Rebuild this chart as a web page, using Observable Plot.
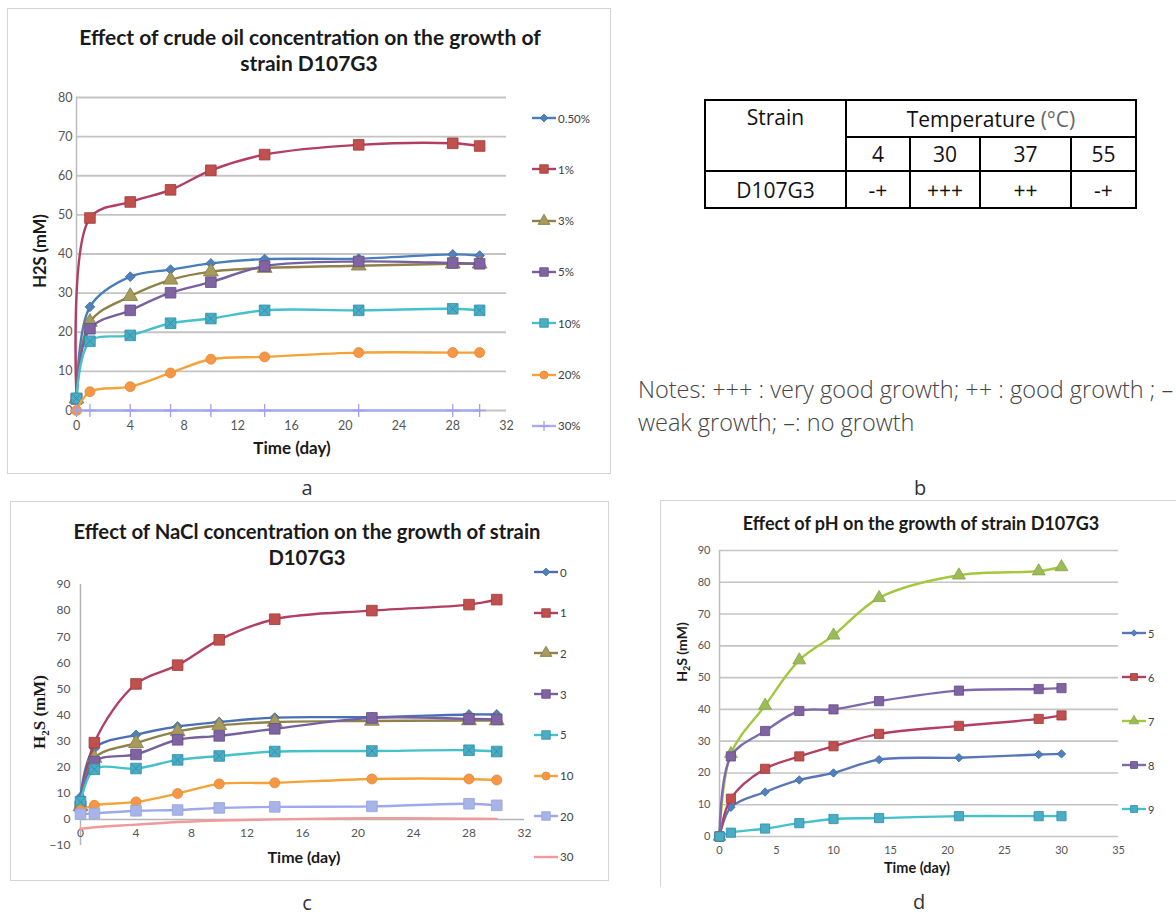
<!DOCTYPE html>
<html>
<head>
<meta charset="utf-8">
<script src="https://cdn.jsdelivr.net/npm/d3@7"></script>
<script src="https://cdn.jsdelivr.net/npm/@observablehq/plot@0.6"></script>
<style>
  body { margin: 0; background: #fff; }
  #page { position: relative; width: 1176px; height: 915px; overflow: hidden; background: #fff; font-family: Lato, "Open Sans", sans-serif; }
  .abs { position: absolute; }
  .frame { position: absolute; box-sizing: border-box; }
  .title { position: absolute; font-family: Lato, sans-serif; font-weight: bold; color: #1a1a1a; text-align: center; white-space: nowrap; transform: translate(-50%, -50%); line-height: 1.1; }
  .lbl { position: absolute; white-space: nowrap; transform: translate(-50%, -50%); line-height: 1.1; }
  .rot { position: absolute; white-space: nowrap; transform: translate(-50%, -50%) rotate(-90deg); line-height: 1.1; }
  .panel { position: absolute; font-family: "Open Sans", sans-serif; font-size: 20px; line-height: 16px; color: #333; transform: translate(-50%, -50%); }
  table.tb { position: absolute; left: 704px; top: 99px; border-collapse: collapse; font-family: "Open Sans", sans-serif; font-size: 21px; color: #111; }
  table.tb td { border: 2px solid #000; text-align: center; padding: 0; line-height: 24px; }
  .notes { position: absolute; left: 638px; top: 373px; font-family: "Open Sans", sans-serif; font-weight: 300; font-size: 23.5px; line-height: 33px; color: #444; white-space: nowrap; }
</style>
</head>
<body>
<div id="page"></div>
<script>
// ================= DATA =================
const days = [0, 1, 4, 7, 10, 14, 21, 28, 30];

// (a) crude oil concentration
const oilSeries = ["0.50%", "1%", "3%", "5%", "10%", "20%", "30%"];
const oil_0_5 = [3, 26.5, 34.2, 36.0, 37.6, 38.7, 38.8, 39.9, 39.6];
const oil_1   = [3, 49.2, 53.3, 56.4, 61.4, 65.4, 67.9, 68.3, 67.6];
const oil_3   = [3, 22.6, 29.2, 33.4, 35.5, 36.4, 37.0, 37.5, 37.5];
const oil_5   = [3, 20.9, 25.6, 30.1, 32.8, 36.9, 38.1, 37.7, 37.5];
const oil_10  = [3.1, 17.7, 19.2, 22.3, 23.5, 25.6, 25.6, 26.0, 25.6];
const oil_20  = [0, 4.8, 6.1, 9.6, 13.1, 13.7, 14.8, 14.8, 14.8];
const oil_30  = [0, 0, 0, 0, 0, 0, 0, 0, 0];
const oilTicksX = [0, 4, 8, 12, 16, 20, 24, 28, 32];
const oilTicksY = [0, 10, 20, 30, 40, 50, 60, 70, 80];

// (c) NaCl concentration
const naclSeries = ["0", "1", "2", "3", "5", "10", "20", "30"];
const nacl_0  = [8.6, 27.2, 32.4, 35.6, 37.3, 39.0, 39.2, 40.2, 40.2];
const nacl_1  = [5, 29.4, 51.9, 59.1, 68.8, 76.7, 80.0, 82.3, 84.2];
const nacl_2  = [5, 23.5, 29.2, 33.7, 36.0, 37.3, 37.7, 37.9, 37.9];
const nacl_3  = [5, 22.1, 24.9, 30.5, 32.0, 34.7, 38.9, 38.5, 38.3];
const nacl_5  = [6.7, 19.2, 19.5, 22.8, 24.3, 26.0, 26.2, 26.5, 26.0];
const nacl_10 = [3.5, 5.4, 6.7, 9.9, 13.6, 14.0, 15.5, 15.5, 15.1];
const nacl_20 = [2.0, 2.3, 3.3, 3.6, 4.4, 4.8, 5.0, 6.0, 5.4];
const nacl_30 = [-3.6, -3.0, -2.0, -1.0, -0.4, 0, 0.5, 0.3, 0.2];
const naclTicksX = [0, 4, 8, 12, 16, 20, 24, 28, 32];
const naclTicksY = [-10, 0, 10, 20, 30, 40, 50, 60, 70, 80, 90];

// (d) pH
const phSeries = ["5", "6", "7", "8", "9"];
const ph_5 = [0, 9.2, 14.0, 17.8, 20.0, 24.2, 24.8, 25.8, 26.0];
const ph_6 = [0, 11.9, 21.3, 25.2, 28.4, 32.3, 34.8, 37.0, 38.1];
const ph_7 = [0, 26.0, 41.2, 55.5, 63.3, 75.1, 82.2, 83.5, 84.8];
const ph_8 = [0, 25.2, 33.2, 39.5, 40.0, 42.6, 45.9, 46.4, 46.7];
const ph_9 = [0, 1.2, 2.5, 4.2, 5.5, 5.8, 6.4, 6.4, 6.4];
const phTicksX = [0, 5, 10, 15, 20, 25, 30, 35];
const phTicksY = [0, 10, 20, 30, 40, 50, 60, 70, 80, 90];

// (b) temperature table
const tempLabels = ["4", "30", "37", "55"];
const strainName = "D107G3";
const growthD107G3 = ["-+", "+++", "++", "-+"];

// ================= STYLES =================
const oilStyle = {
  "0.50%": {line: "#4A7EBB", fill: "#4F81BD", stroke: "#3A6AA5", symbol: "diamond2", r: 4.4},
  "1%":    {line: "#B23F62", fill: "#C0504D", stroke: "#9E3A38", symbol: "square", r: 6},
  "3%":    {line: "#8F8149", fill: "#A69A5C", stroke: "#857843", symbol: "triangle", r: 5.5},
  "5%":    {line: "#7760A0", fill: "#8064A2", stroke: "#654C88", symbol: "square", r: 6},
  "10%":   {line: "#45C1CC", fill: "#4BACC6", stroke: "#2E8FA8", symbol: "square", r: 6, cross: true},
  "20%":   {line: "#F5A238", fill: "#F79646", stroke: "#E08A2E", symbol: "circle", r: 5},
  "30%":   {line: "#ABABF2", fill: "none", stroke: "#A0A0EE", symbol: "plus", r: 4.2}
};
const naclStyle = {
  "0":  {line: "#4A6FB5", fill: "#4F81BD", stroke: "#3A6AA5", symbol: "diamond2", r: 4.4},
  "1":  {line: "#B23F62", fill: "#C0504D", stroke: "#9E3A38", symbol: "square", r: 6},
  "2":  {line: "#8F8149", fill: "#A69A5C", stroke: "#857843", symbol: "triangle", r: 5.5},
  "3":  {line: "#7760A0", fill: "#8064A2", stroke: "#654C88", symbol: "square", r: 6},
  "5":  {line: "#45C1CC", fill: "#4BACC6", stroke: "#2E8FA8", symbol: "square", r: 6, cross: true},
  "10": {line: "#F5A238", fill: "#F79646", stroke: "#E08A2E", symbol: "circle", r: 5},
  "20": {line: "#9FA7EE", fill: "#A6B4E8", stroke: "#95A3DC", symbol: "square", r: 6},
  "30": {line: "#F29A9A", fill: null, stroke: null, symbol: null, r: 0}
};
const phStyle = {
  "5": {line: "#5B76B8", fill: "#4F81BD", stroke: "#3A6AA5", symbol: "diamond2", r: 3.8},
  "6": {line: "#B23F62", fill: "#C0504D", stroke: "#9E3A38", symbol: "square", r: 5.2},
  "7": {line: "#A3C83C", fill: "#9BBB59", stroke: "#86A540", symbol: "triangle", r: 4.8},
  "8": {line: "#7D6AAE", fill: "#8064A2", stroke: "#654C88", symbol: "square", r: 5.2},
  "9": {line: "#45C1CC", fill: "#4BACC6", stroke: "#2E8FA8", symbol: "square", r: 5.2}
};

// ================= HELPERS =================
const page = document.getElementById("page");
function el(tag, cls, css, html) {
  const e = document.createElement(tag);
  if (cls) e.className = cls;
  if (css) e.style.cssText = css;
  if (html != null) e.innerHTML = html;
  page.appendChild(e);
  return e;
}
function rowsOf(names, arrays) {
  return names.flatMap((s, i) => days.map((d, j) => ({series: s, day: d, h2s: arrays[i][j]})));
}
function seriesMarks(rows, names, styles, curve) {
  const marks = [];
  for (const s of names) {
    const st = styles[s];
    const data = rows.filter(r => r.series === s);
    marks.push(Plot.line(data, {x: "day", y: "h2s", stroke: st.line, strokeWidth: 2.4, curve}));
    if (st.symbol) {
      if (st.symbol === "plus") {
        marks.push(Plot.dot(data, {x: "day", y: "h2s", symbol: "plus", r: st.r, stroke: st.stroke, strokeWidth: 1.3, fill: "none"}));
      } else {
        marks.push(Plot.dot(data, {x: "day", y: "h2s", symbol: st.symbol, r: st.r, fill: st.fill, stroke: st.stroke, strokeWidth: 0.8}));
      }
      if (st.cross) {
        marks.push(Plot.dot(data, {x: "day", y: "h2s", symbol: "times", r: st.r * 0.7, stroke: st.stroke, strokeWidth: 0.9, fill: "none"}));
      }
    }
  }
  return marks;
}
const symMap = {diamond2: d3.symbolDiamond2, square: d3.symbolSquare, triangle: d3.symbolTriangle, circle: d3.symbolCircle, plus: d3.symbolPlus, times: d3.symbolTimes};
function addLegend(names, styles, x, y0, step, fontSize, lineLen, scale) {
  names.forEach((s, i) => {
    const st = styles[s];
    const cy = y0 + i * step;
    const div = el("div", "abs", `left:${x}px;top:${cy - 8}px;height:16px;display:flex;align-items:center;font-family:Lato,sans-serif;font-size:${fontSize}px;color:#404040;white-space:nowrap;`);
    const svg = d3.create("svg").attr("width", lineLen + 2).attr("height", 16).style("display", "block");
    svg.append("line").attr("x1", 0).attr("x2", lineLen).attr("y1", 8).attr("y2", 8).attr("stroke", st.line).attr("stroke-width", 2.4);
    if (st.symbol) {
      const r = st.r * scale;
      const p = svg.append("path").attr("transform", `translate(${lineLen / 2},8)`).attr("d", d3.symbol(symMap[st.symbol], Math.PI * r * r)());
      if (st.symbol === "plus") p.attr("fill", "none").attr("stroke", st.stroke).attr("stroke-width", 1.3);
      else p.attr("fill", st.fill).attr("stroke", st.stroke).attr("stroke-width", 0.8);
    }
    div.appendChild(svg.node());
    const t = document.createElement("span");
    t.textContent = s;
    div.appendChild(t);
  });
}
function place(svg, left, top) {
  svg.style.position = "absolute";
  svg.style.left = left + "px";
  svg.style.top = top + "px";
  page.appendChild(svg);
}

// ================= PANEL A =================
el("div", "frame", "left:7px;top:8px;width:604px;height:466px;border:1.5px solid #d4d4d4;");
{
  const rows = rowsOf(oilSeries, [oil_0_5, oil_1, oil_3, oil_5, oil_10, oil_20, oil_30]);
  const svg = Plot.plot({
    width: 600, height: 464,
    marginLeft: 68, marginRight: 102, marginTop: 88, marginBottom: 63,
    x: {domain: [0, 32]},
    y: {domain: [0, 80]},
    style: {background: "transparent", fontFamily: "Lato, sans-serif", fontSize: "12.5px", color: "#555", overflow: "visible"},
    marks: [
      Plot.gridY({ticks: oilTicksY, stroke: "#c4c4c4", strokeOpacity: 1, strokeWidth: 1.8}),
      Plot.ruleX([0], {stroke: "#bdbdbd", strokeWidth: 1.5}),
      Plot.axisY({ticks: oilTicksY, tickSize: 0, tickPadding: 4, label: null}),
      Plot.axisX({ticks: oilTicksX, tickSize: 0, tickPadding: 11, label: null}),
      ...seriesMarks(rows, oilSeries, oilStyle, "catmull-rom")
    ]
  });
  place(svg, 8, 9);
}
el("div", "title", "left:310px;top:37px;font-size:21px;", "Effect of crude oil concentration on the growth of");
el("div", "title", "left:309px;top:63px;font-size:21px;", "strain D107G3");
el("div", "rot", "left:40px;top:251px;font-weight:bold;font-size:16.5px;color:#1a1a1a;font-family:Lato,sans-serif;", "H2S (mM)");
el("div", "lbl", "left:292px;top:448px;font-weight:bold;font-size:17px;color:#1a1a1a;font-family:Lato,sans-serif;", "Time (day)");
addLegend(oilSeries, oilStyle, 532, 118, 51.3, 11.5, 24, 0.8);
el("div", "panel", "left:307px;top:488px;", "a");

// ================= PANEL B =================
{
  const tb = el("table", "tb", "");
  const cw = [141, 64, 70, 91, 65];
  let html = "<colgroup>" + cw.map(w => `<col style="width:${w}px">`).join("") + "</colgroup>";
  html += `<tr style="height:37px"><td rowspan="2" style="vertical-align:top;padding-top:4px;">Strain</td><td colspan="${tempLabels.length}">Temperature <span style="color:#666">(°C)</span></td></tr>`;
  html += `<tr style="height:34px">` + tempLabels.map(t => `<td>${t}</td>`).join("") + `</tr>`;
  html += `<tr style="height:37px"><td>${strainName}</td>` + growthD107G3.map(g => `<td>${g}</td>`).join("") + `</tr>`;
  tb.innerHTML = html;
}
el("div", "notes", "", "Notes: +++ : very good growth; ++ : good growth ; –<br>weak growth; –: no growth");
el("div", "panel", "left:920px;top:488px;", "b");

// ================= PANEL C =================
el("div", "frame", "left:10px;top:501px;width:599px;height:380px;border:1.5px solid #d4d4d4;");
{
  const rows = rowsOf(naclSeries, [nacl_0, nacl_1, nacl_2, nacl_3, nacl_5, nacl_10, nacl_20, nacl_30]);
  const svg = Plot.plot({
    width: 594, height: 376,
    marginLeft: 68, marginRight: 82, marginTop: 81, marginBottom: 34,
    x: {domain: [0, 32], axis: null},
    y: {domain: [-10, 90]},
    style: {background: "transparent", fontFamily: "Lato, sans-serif", fontSize: "12px", color: "#555", overflow: "visible"},
    marks: [
      Plot.ruleX([0], {stroke: "#b5b5b5", strokeWidth: 1.5}),
      Plot.ruleY([0], {stroke: "#b5b5b5", strokeWidth: 1.5}),
      Plot.axisY({ticks: naclTicksY, tickSize: 0, tickPadding: 10, label: null}),
      Plot.text(naclTicksX, {x: d => d, y: 0, dy: 14, text: d => String(d), fill: "#555", fontSize: 12}),
      ...seriesMarks(rows, naclSeries, naclStyle, "catmull-rom")
    ]
  });
  place(svg, 12, 503);
}
el("div", "title", "left:307px;top:531px;font-size:20.3px;", "Effect of NaCl concentration on the growth of strain");
el("div", "title", "left:307px;top:557px;font-size:20.3px;", "D107G3");
el("div", "rot", "left:41px;top:712px;font-weight:bold;font-size:17px;color:#1a1a1a;font-family:'Liberation Serif',serif;", "H<sub style='font-size:11px'>2</sub>S (mM)");
el("div", "lbl", "left:304px;top:857px;font-weight:bold;font-size:16px;color:#1a1a1a;font-family:Lato,sans-serif;", "Time (day)");
addLegend(naclSeries, naclStyle, 534, 572, 40.7, 11.5, 24, 0.8);
el("div", "panel", "left:307px;top:903px;", "c");

// ================= PANEL D =================
el("div", "frame", "left:660px;top:500px;width:600px;height:387px;border-left:1.5px solid #d4d4d4;border-top:1.5px solid #d4d4d4;");
{
  const rows = rowsOf(phSeries, [ph_5, ph_6, ph_7, ph_8, ph_9]);
  const svg = Plot.plot({
    width: 514, height: 384,
    marginLeft: 57, marginRight: 58, marginTop: 48, marginBottom: 50,
    x: {domain: [0, 35]},
    y: {domain: [0, 90]},
    style: {background: "transparent", fontFamily: "Lato, sans-serif", fontSize: "11px", color: "#555", overflow: "visible"},
    marks: [
      Plot.gridY({ticks: phTicksY, stroke: "#c4c4c4", strokeOpacity: 1, strokeWidth: 1.6}),
      Plot.ruleX([0], {stroke: "#bdbdbd", strokeWidth: 1.5}),
      Plot.axisY({ticks: phTicksY, tickSize: 0, tickPadding: 9, label: null}),
      Plot.axisX({ticks: phTicksX, tickSize: 0, tickPadding: 10, label: null}),
      ...seriesMarks(rows, phSeries, phStyle, "catmull-rom")
    ]
  });
  place(svg, 662, 502);
}
el("div", "title", "left:921px;top:524px;font-size:18px;", "Effect of pH on the growth of strain D107G3");
el("div", "rot", "left:683px;top:652px;font-weight:bold;font-size:14px;color:#1a1a1a;font-family:Lato,sans-serif;", "H<sub style='font-size:9px'>2</sub>S (mM)");
el("div", "lbl", "left:917px;top:868px;font-weight:bold;font-size:14.5px;color:#1a1a1a;font-family:Lato,sans-serif;", "Time (day)");
addLegend(phSeries, phStyle, 1122, 633, 44, 11, 24, 0.75);
el("div", "panel", "left:919px;top:902px;", "d");
</script>
</body>
</html>
